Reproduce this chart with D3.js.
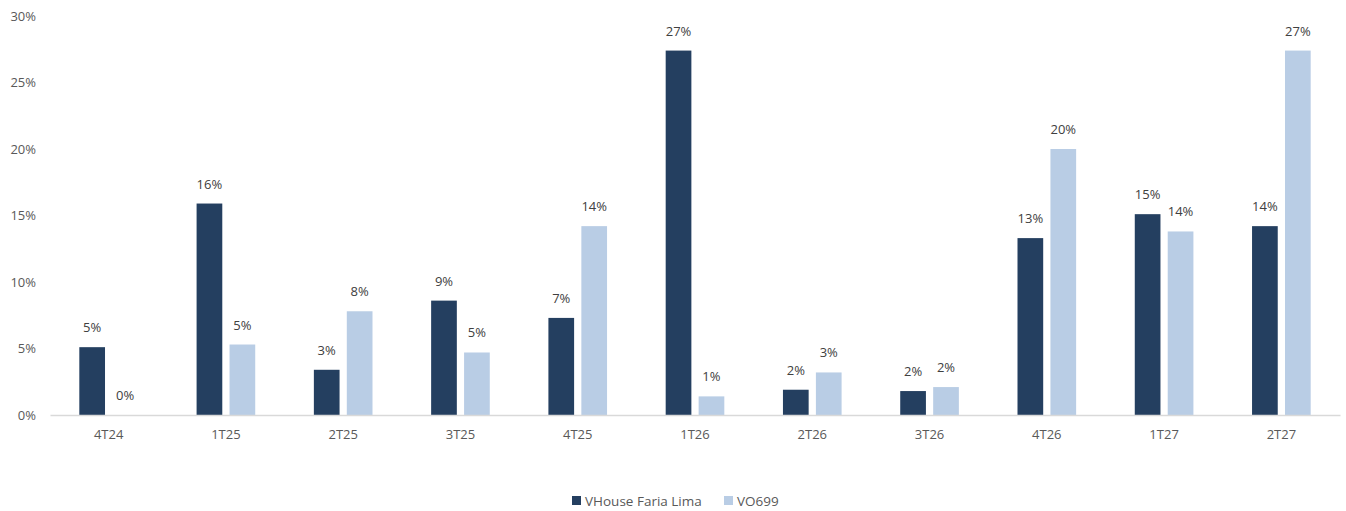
<!DOCTYPE html>
<html>
<head>
<meta charset="utf-8">
<script src="https://cdn.jsdelivr.net/npm/d3@7"></script>
<style>
  body { margin: 0; background: #fff; }
  svg text { font-family: "Open Sans", sans-serif; }
</style>
</head>
<body>
<svg id="chart" width="1346" height="511"></svg>
<script>
// categories and series values (in %)
var categories = ["4T24", "1T25", "2T25", "3T25", "4T25", "1T26", "2T26", "3T26", "4T26", "1T27", "2T27"];
var seriesNames = ["VHouse Faria Lima", "VO699"];
var vhouse = [5.1, 15.9, 3.4, 8.6, 7.3, 27.4, 1.9, 1.8, 13.3, 15.1, 14.2];
var vo699 = [0, 5.3, 7.8, 4.7, 14.2, 1.4, 3.2, 2.1, 20.0, 13.8, 27.4];
var yTicks = [0, 5, 10, 15, 20, 25, 30];
var colors = ["#243f60", "#b9cde5"];

var svg = d3.select("#chart");
var mLeft = 50, mRight = 1340, mTop = 16, mBottom = 415;

var x0 = d3.scaleBand()
  .domain(categories)
  .range([mLeft, mRight])
  .paddingInner(0.5)
  .paddingOuter(0.25);

var x1 = d3.scaleBand()
  .domain(seriesNames)
  .range([0, x0.bandwidth()])
  .paddingInner(0.22);

var y = d3.scaleLinear().domain([0, 30]).range([mBottom, mTop]);

// y axis labels (no line, no ticks)
svg.append("g")
  .selectAll("text")
  .data(yTicks)
  .enter().append("text")
  .attr("x", 36)
  .attr("y", function(d) { return y(d); })
  .attr("dy", "0.35em")
  .attr("text-anchor", "end")
  .attr("font-size", 13)
  .attr("fill", "#595959")
  .text(function(d) { return d + "%"; });

var rows = categories.map(function(c, i) {
  return { cat: c, values: [vhouse[i], vo699[i]] };
});

var group = svg.selectAll(".grp")
  .data(rows)
  .enter().append("g")
  .attr("class", "grp")
  .attr("transform", function(d) { return "translate(" + x0(d.cat) + ",0)"; });

group.selectAll("rect")
  .data(function(d) { return d.values.map(function(v, i) { return { s: seriesNames[i], v: v, i: i }; }); })
  .enter().append("rect")
  .attr("x", function(d) { return x1(d.s); })
  .attr("y", function(d) { return y(d.v); })
  .attr("width", x1.bandwidth())
  .attr("height", function(d) { return y(0) - y(d.v); })
  .attr("fill", function(d) { return colors[d.i]; });

group.selectAll("text")
  .data(function(d) { return d.values.map(function(v, i) { return { s: seriesNames[i], v: v }; }); })
  .enter().append("text")
  .attr("x", function(d) { return x1(d.s) + x1.bandwidth() / 2; })
  .attr("y", function(d) { return y(d.v) - 15; })
  .attr("text-anchor", "middle")
  .attr("font-size", 13)
  .attr("fill", "#404040")
  .text(function(d) { return Math.round(d.v) + "%"; });

// x axis
var xAxis = svg.append("g")
  .attr("transform", "translate(0," + mBottom + ")")
  .call(d3.axisBottom(x0).tickSize(0).tickPadding(15));
xAxis.select(".domain").attr("stroke", "#d9d9d9").attr("stroke-width", 1.5);
xAxis.selectAll("text")
  .attr("font-size", 13)
  .attr("fill", "#595959")
  .style("font-family", "'Open Sans', sans-serif");

// legend
var legend = svg.append("g").attr("transform", "translate(572,501)");
var legendX = [0, 152];
seriesNames.forEach(function(name, i) {
  var g = legend.append("g").attr("transform", "translate(" + legendX[i] + ",0)");
  g.append("rect").attr("x", 0).attr("y", -5).attr("width", 9).attr("height", 9).attr("fill", colors[i]);
  g.append("text")
    .attr("x", 13)
    .attr("y", 0)
    .attr("dy", "0.35em")
    .attr("font-size", 13.5)
    .attr("fill", "#595959")
    .text(name);
});
</script>
</body>
</html>
